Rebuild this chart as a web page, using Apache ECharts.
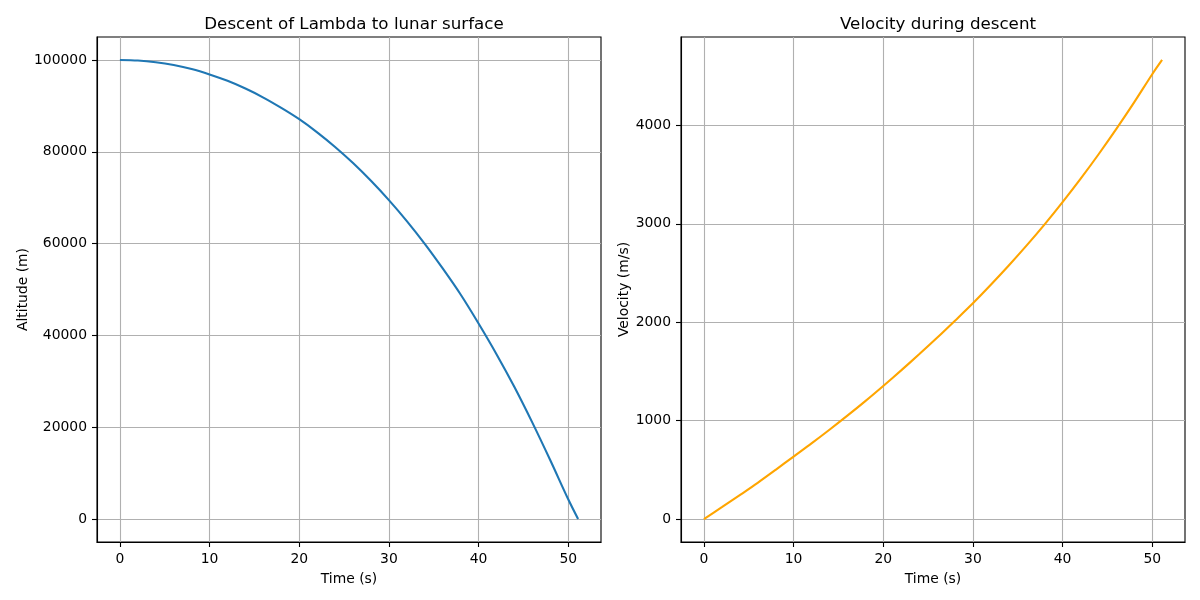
<!DOCTYPE html>
<html>
<head>
<meta charset="utf-8">
<title>Lunar descent</title>
<script src="https://cdn.jsdelivr.net/npm/echarts@6/dist/echarts.min.js"></script>
<style>
    html, body { margin: 0; padding: 0; background: #fff; }
    #chart { width: 1200px; height: 600px; }
</style>
</head>
<body>
<div id="chart"></div>
<script>
// values
var times = [0, 2, 4, 6, 8, 10, 12, 14, 16, 18, 20, 22, 24, 26, 28, 30, 32, 34, 36, 38, 40, 42, 44, 46, 48, 50, 51.1];
var altitude = [100000, 99880, 99510, 98900, 98030, 96850, 95450, 93770, 91810, 89560, 87100, 84240, 81050, 77540, 73680, 69470, 64900, 59940, 54580, 48900, 42590, 35910, 28750, 21000, 12800, 4300, 0];
var velocity = [0, 120, 243, 368, 500, 635, 769, 908, 1051, 1199, 1353, 1511, 1674, 1842, 2016, 2193, 2381, 2577, 2781, 2995, 3221, 3457, 3705, 3965, 4237, 4521, 4666];

var timeTicks = [0, 10, 20, 30, 40, 50];
var altTicks = [0, 20000, 40000, 60000, 80000, 100000];
var velTicks = [0, 1000, 2000, 3000, 4000];

var FONT = 'DejaVu Sans';

function pairs(xs, ys) {
    var out = [];
    for (var i = 0; i < xs.length; i++) {
        out.push([xs[i], ys[i]]);
    }
    return out;
}

// matplotlib style: 5% margins around the data
function pad(lo, hi) {
    var d = (hi - lo) * 0.05;
    return { min: lo - d, max: hi + d };
}

// plain numbers, no thousands separator
function plain(v) {
    return String(v);
}

var tRange = pad(0, 51.1);
var altRange = pad(0, 100000);
var velRange = pad(0, 4666);

function xAxisFor(gridIndex) {
    return {
        type: 'value',
        gridIndex: gridIndex,
        min: tRange.min,
        max: tRange.max,
        name: 'Time (s)',
        nameLocation: 'middle',
        nameGap: 30,
        nameTextStyle: { fontFamily: FONT, fontSize: 13.9, color: '#000' },
        axisLine: { show: true, onZero: false, lineStyle: { color: '#000', width: 1.1 } },
        axisTick: { show: true, length: 5, customValues: timeTicks, lineStyle: { color: '#000', width: 1.1 } },
        axisLabel: { customValues: timeTicks, formatter: plain, margin: 10, fontFamily: FONT, fontSize: 13.9, color: '#000' },
        splitLine: { show: true, lineStyle: { color: '#b0b0b0', width: 1.1 } }
    };
}

function yAxisFor(gridIndex, range, ticks, name, gap) {
    return {
        type: 'value',
        gridIndex: gridIndex,
        min: range.min,
        max: range.max,
        name: name,
        nameLocation: 'middle',
        nameGap: gap,
        nameTextStyle: { fontFamily: FONT, fontSize: 13.9, color: '#000' },
        axisLine: { show: true, onZero: false, lineStyle: { color: '#000', width: 1.1 } },
        axisTick: { show: true, length: 5, customValues: ticks, lineStyle: { color: '#000', width: 1.1 } },
        axisLabel: { customValues: ticks, formatter: plain, margin: 10, fontFamily: FONT, fontSize: 13.9, color: '#000' },
        splitLine: { show: true, lineStyle: { color: '#b0b0b0', width: 1.1 } }
    };
}

var myChart = echarts.init(document.getElementById('chart'), null, { renderer: 'canvas' });

var option = {
    animation: false,
    backgroundColor: '#fff',
    title: [{
        text: 'Descent of Lambda to lunar surface',
        left: 349,
        top: 11,
        textAlign: 'center',
        textStyle: { fontFamily: FONT, fontSize: 16.7, fontWeight: 'normal', color: '#000' }
    }, {
        text: 'Velocity during descent',
        left: 933,
        top: 11,
        textAlign: 'center',
        textStyle: { fontFamily: FONT, fontSize: 16.7, fontWeight: 'normal', color: '#000' }
    }],
    grid: [
        { left: 97, right: 599, top: 37, bottom: 58, show: true, borderColor: '#000', borderWidth: 1.1, backgroundColor: 'transparent' },
        { left: 681, right: 15, top: 37, bottom: 58, show: true, borderColor: '#000', borderWidth: 1.1, backgroundColor: 'transparent' }
    ],
    xAxis: [xAxisFor(0), xAxisFor(1)],
    yAxis: [
        yAxisFor(0, altRange, altTicks, 'Altitude (m)', 64),
        yAxisFor(1, velRange, velTicks, 'Velocity (m/s)', 50)
    ],
    series: [{
        type: 'line',
        xAxisIndex: 0,
        yAxisIndex: 0,
        data: pairs(times, altitude),
        smooth: 0.3,
        showSymbol: false,
        lineStyle: { color: '#1f77b4', width: 2.1 },
        itemStyle: { color: '#1f77b4' }
    }, {
        type: 'line',
        xAxisIndex: 1,
        yAxisIndex: 1,
        data: pairs(times, velocity),
        smooth: 0.3,
        showSymbol: false,
        lineStyle: { color: '#ffa500', width: 2.1 },
        itemStyle: { color: '#ffa500' }
    }]
};

myChart.setOption(option);
</script>
</body>
</html>
